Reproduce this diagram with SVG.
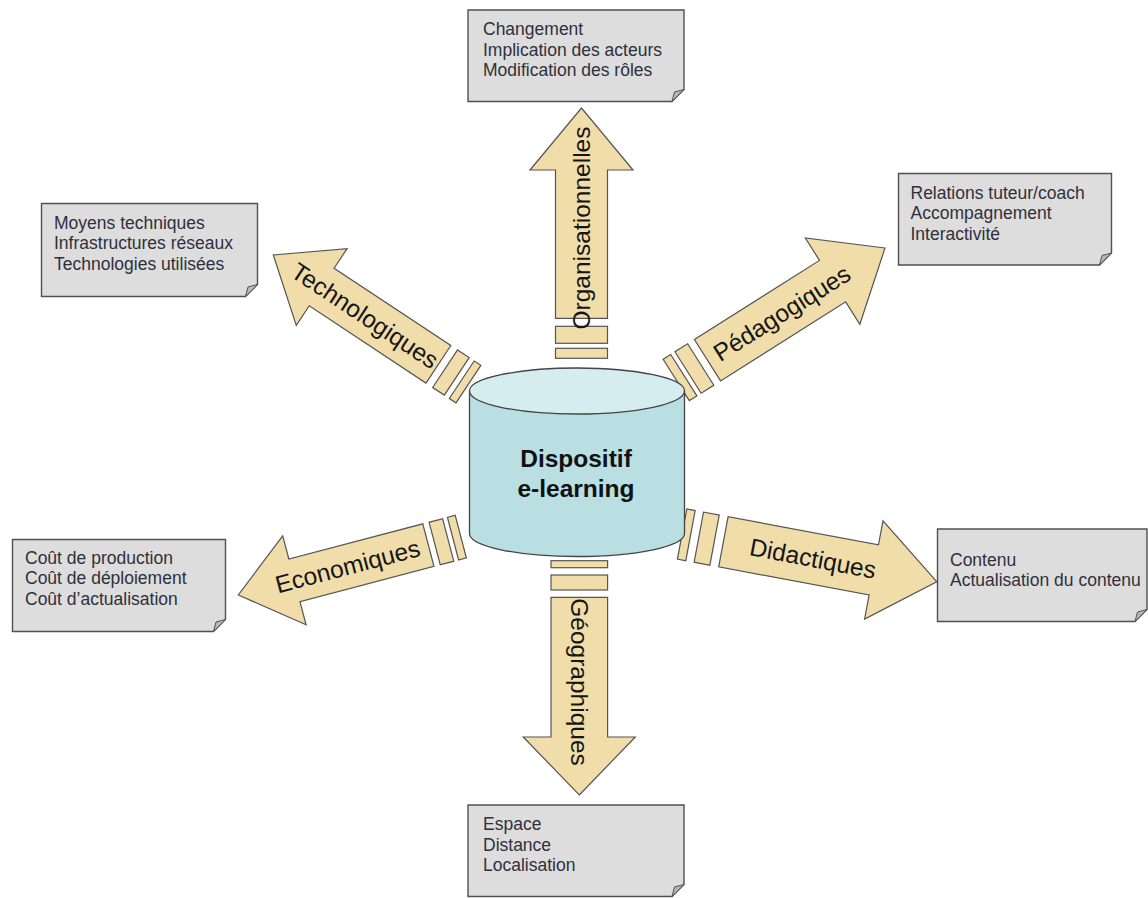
<svg xmlns="http://www.w3.org/2000/svg" width="1148" height="898" viewBox="0 0 1148 898">
<style>
.arr{fill:#f0ddaa;stroke:#555;stroke-width:1.2;stroke-linejoin:miter}
.lbl{font-family:"Liberation Sans",Arial,sans-serif;font-size:24.5px;fill:#151515;text-anchor:middle}
.box{fill:#dddddd;stroke:#505050;stroke-width:1.4}
.fold{fill:#b8b8b8;stroke:#505050;stroke-width:1}
.note{font-family:"Liberation Sans",Arial,sans-serif;font-size:17.5px;fill:#30303c}
.cyl{stroke:#444;stroke-width:1.3}
.ctr{font-family:"Liberation Sans",Arial,sans-serif;font-size:24.5px;font-weight:bold;fill:#111;text-anchor:middle}
</style>
<rect width="1148" height="898" fill="#ffffff"/>
<g id="connectors">
  <g id="arrow-org" transform="translate(581.5,108) rotate(-90)">
    <polygon class="arr" points="0,0 -62,-51.5 -62,-26 -210.3,-26 -210.3,26 -62,26 -62,51.5"/>
    <rect class="arr" x="-235.3" y="-26" width="17" height="52"/>
    <rect class="arr" x="-250.3" y="-26" width="10" height="52"/>
    <text class="lbl" x="-120" y="8.5">Organisationnelles</text>
  </g>
  <g id="arrow-geo" transform="translate(579.3,795) rotate(90)">
    <polygon class="arr" points="0,0 -58,-56 -58,-28.3 -197.7,-28.3 -197.7,28.3 -58,28.3 -58,56"/>
    <rect class="arr" x="-220" y="-28.3" width="15" height="56.6"/>
    <rect class="arr" x="-234.3" y="-28.3" width="7" height="56.6"/>
    <text class="lbl" x="-113" y="8.5">Géographiques</text>
  </g>
  <g id="arrow-tech" transform="translate(273.3,255) rotate(213.5)">
    <polygon class="arr" points="0,0 -58,-46 -58,-22.5 -198,-22.5 -198,22.5 -58,22.5 -58,46"/>
    <rect class="arr" x="-220" y="-22.5" width="14" height="45"/>
    <rect class="arr" x="-234" y="-22.5" width="8" height="45"/>
    <g transform="translate(-110,0) rotate(180)"><text class="lbl" x="0" y="8.5">Technologiques</text></g>
  </g>
  <g id="arrow-peda" transform="translate(885,248) rotate(-32.3)">
    <polygon class="arr" points="0,0 -62,-51 -62,-24.5 -210,-24.5 -210,24.5 -62,24.5 -62,51"/>
    <rect class="arr" x="-233" y="-24.5" width="15" height="49"/>
    <rect class="arr" x="-247" y="-24.5" width="9" height="49"/>
    <text class="lbl" x="-122" y="8.5">Pédagogiques</text>
  </g>
  <g id="arrow-eco" transform="translate(238.3,595) rotate(165.3)">
    <polygon class="arr" points="0,0 -58,-46 -58,-22 -196.5,-22 -196.5,22 -58,22 -58,46"/>
    <rect class="arr" x="-217" y="-22" width="14" height="44"/>
    <rect class="arr" x="-230" y="-22" width="8" height="44"/>
    <g transform="translate(-113,0) rotate(180)"><text class="lbl" x="0" y="8.5">Economiques</text></g>
  </g>
  <g id="arrow-dida" transform="translate(936.7,581.7) rotate(10.6)">
    <polygon class="arr" points="0,0 -64,-50 -64,-25.5 -217,-25.5 -217,25.5 -64,25.5 -64,50"/>
    <rect class="arr" x="-242" y="-25.5" width="16" height="51"/>
    <rect class="arr" x="-259" y="-25.5" width="8.5" height="51"/>
    <text class="lbl" x="-126" y="8.5">Didactiques</text>
  </g>
</g>
<g id="node-center">
  <path class="cyl" fill="#b9dfe3" d="M469.5,391 V533.5 A107.5,23 0 0 0 684.5,533.5 V391 Z"/>
  <ellipse class="cyl" fill="#d6edf0" cx="577" cy="391" rx="107.5" ry="23"/>
  <text class="ctr" x="576" y="467">Dispositif</text>
  <text class="ctr" x="576" y="497">e-learning</text>
</g>
<g id="note-org">
  <path class="box" d="M468,10 H684 V89.5 L672,101.5 H468 Z"/>
  <path class="fold" d="M672,101.5 L684,89.5 L674.5,92 Z"/>
  <text class="note" x="483" y="35">Changement</text>
  <text class="note" x="483" y="55.5">Implication des acteurs</text>
  <text class="note" x="483" y="76">Modification des rôles</text>
</g>
<g id="note-tech">
  <path class="box" d="M41.5,203.5 H257.5 V284.5 L245.5,296.5 H41.5 Z"/>
  <path class="fold" d="M245.5,296.5 L257.5,284.5 L248,287 Z"/>
  <text class="note" x="54" y="228.5">Moyens techniques</text>
  <text class="note" x="54" y="249">Infrastructures réseaux</text>
  <text class="note" x="54" y="269.5">Technologies utilisées</text>
</g>
<g id="note-peda">
  <path class="box" d="M898.5,173.5 H1111.5 V253 L1099.5,265 H898.5 Z"/>
  <path class="fold" d="M1099.5,265 L1111.5,253 L1102,255.5 Z"/>
  <text class="note" x="910.5" y="198.5">Relations tuteur/coach</text>
  <text class="note" x="910.5" y="219">Accompagnement</text>
  <text class="note" x="910.5" y="239.5">Interactivité</text>
</g>
<g id="note-eco">
  <path class="box" d="M12.5,539.5 H225.5 V619.5 L213.5,631.5 H12.5 Z"/>
  <path class="fold" d="M213.5,631.5 L225.5,619.5 L216,622 Z"/>
  <text class="note" x="25" y="563.5">Coût de production</text>
  <text class="note" x="25" y="584">Coût de déploiement</text>
  <text class="note" x="25" y="604.5">Coût d’actualisation</text>
</g>
<g id="note-dida">
  <path class="box" d="M937.5,529 H1147 V609.5 L1135,621.5 H937.5 Z"/>
  <path class="fold" d="M1135,621.5 L1147,609.5 L1137.5,612 Z"/>
  <text class="note" x="950" y="565.5">Contenu</text>
  <text class="note" x="950" y="586">Actualisation du contenu</text>
</g>
<g id="note-geo">
  <path class="box" d="M468,805 H684 V884.5 L672,896.5 H468 Z"/>
  <path class="fold" d="M672,896.5 L684,884.5 L674.5,887 Z"/>
  <text class="note" x="483" y="830">Espace</text>
  <text class="note" x="483" y="850.5">Distance</text>
  <text class="note" x="483" y="871">Localisation</text>
</g>
</svg>
